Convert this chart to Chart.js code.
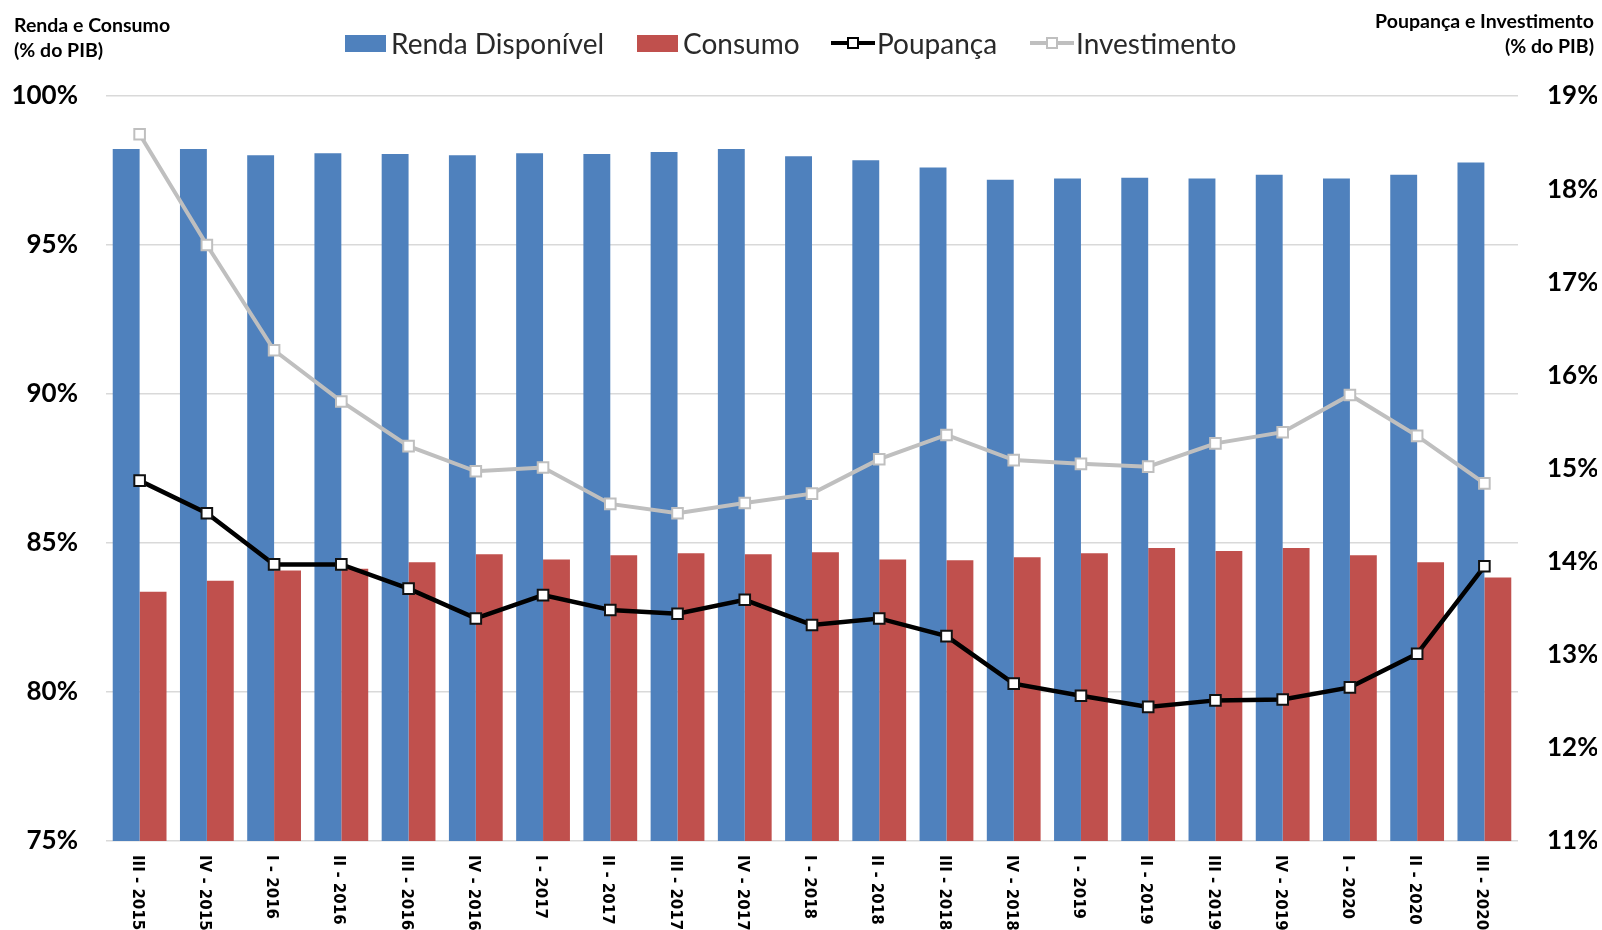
<!DOCTYPE html>
<html>
<head>
<meta charset="utf-8">
<script src="https://cdn.jsdelivr.net/npm/chart.js@4"></script>
<style>
  html, body { margin: 0; padding: 0; background: #fff; }
  #wrap { position: relative; width: 1602px; height: 930px; }
  canvas { position: absolute; left: 0; top: 0; }
  .ttl { position: absolute; font-family: Lato, "Open Sans", sans-serif; font-weight: 700; font-size: 19.5px; color: #000; line-height: 25px; white-space: nowrap; }
  .leg { position: absolute; top: 28px; height: 30px; display: flex; align-items: center; font-family: Lato, "Open Sans", sans-serif; font-size: 28px; color: #2a2a2a; white-space: nowrap; }
  .box { width: 41px; height: 17px; margin-right: 5px; }
  .ln { position: relative; width: 44px; height: 14px; margin-right: 2px; }
  .ln .bar { position: absolute; left: 0; right: 0; top: 5px; height: 4px; }
  .ln .mk { position: absolute; left: 16px; top: 1px; width: 8px; height: 8px; background: #fff; border: 2px solid; }
</style>
</head>
<body>
<div id="wrap">
  <canvas id="c" width="1602" height="930"></canvas>
  <div class="ttl" style="left:14px; top:12px;">Renda e Consumo<br>(% do PIB)</div>
  <div class="ttl" style="right:8px; top:8px; text-align:right;">Poupança e Investimento<br>(% do PIB)</div>
  <div id="legend"></div>
</div>
<script>
// Quarters
const quarters = ['III - 2015','IV - 2015','I - 2016','II - 2016','III - 2016','IV - 2016',
  'I - 2017','II - 2017','III - 2017','IV - 2017','I - 2018','II - 2018','III - 2018','IV - 2018',
  'I - 2019','II - 2019','III - 2019','IV - 2019','I - 2020','II - 2020','III - 2020'];

// Left axis series (% do PIB)
const rendaDisponivel = [98.22, 98.22, 98.01, 98.08, 98.05, 98.01, 98.08, 98.05, 98.12, 98.22,
  97.98, 97.84, 97.60, 97.19, 97.23, 97.26, 97.23, 97.36, 97.23, 97.36, 97.77];
const consumo = [83.36, 83.73, 84.08, 84.14, 84.35, 84.62, 84.45, 84.59, 84.66, 84.62,
  84.69, 84.45, 84.42, 84.52, 84.66, 84.83, 84.73, 84.83, 84.59, 84.35, 83.84];

// Right axis series (% do PIB)
const poupanca = [14.87, 14.52, 13.97, 13.97, 13.71, 13.39, 13.64, 13.48, 13.44, 13.59,
  13.32, 13.39, 13.20, 12.69, 12.56, 12.44, 12.51, 12.52, 12.65, 13.01, 13.95];
const investimento = [18.59, 17.40, 16.27, 15.72, 15.24, 14.97, 15.01, 14.62, 14.52, 14.63,
  14.73, 15.10, 15.36, 15.09, 15.05, 15.02, 15.27, 15.39, 15.79, 15.35, 14.84];

// Axis ranges
const leftAxis = { min: 75, max: 100, step: 5 };
const rightAxis = { min: 11, max: 19, step: 1 };

const BLUE = '#4f81bd', RED = '#c0504d', BLACK = '#000000', GREY = '#bfbfbf';

// Legend
const legendItems = [
  { label: 'Renda Disponível', type: 'box', color: BLUE, left: 345 },
  { label: 'Consumo', type: 'box', color: RED, left: 637 },
  { label: 'Poupança', type: 'line', color: BLACK, left: 831 },
  { label: 'Investimento', type: 'line', color: GREY, left: 1030 }
];
const legendEl = document.getElementById('legend');
legendItems.forEach(it => {
  const d = document.createElement('div');
  d.className = 'leg';
  d.style.left = it.left + 'px';
  if (it.type === 'box') {
    d.innerHTML = '<span class="box" style="background:' + it.color + '"></span>';
  } else {
    d.innerHTML = '<span class="ln"><span class="bar" style="background:' + it.color +
      '"></span><span class="mk" style="border-color:' + it.color + '"></span></span>';
  }
  const t = document.createElement('span');
  t.textContent = it.label;
  d.appendChild(t);
  legendEl.appendChild(d);
});

// Category labels drawn vertically, reading downward
const verticalLabels = {
  id: 'verticalLabels',
  afterDraw(chart) {
    const xs = chart.scales.x;
    const ctx = chart.ctx;
    const y0 = chart.chartArea.bottom + 14;
    ctx.save();
    ctx.fillStyle = '#000';
    ctx.font = 'bold 15px "DejaVu Sans", Verdana, sans-serif';
    ctx.textAlign = 'left';
    ctx.textBaseline = 'middle';
    quarters.forEach((lab, i) => {
      const x = xs.getPixelForValue(i) - 3;
      ctx.save();
      ctx.translate(x, y0);
      ctx.rotate(Math.PI / 2);
      ctx.fillText(lab, 0, 0);
      ctx.restore();
    });
    ctx.restore();
  }
};

const pct = v => v + '%';
const tickFont = { family: 'Lato', weight: 'bold', size: 26 };

new Chart(document.getElementById('c'), {
  data: {
    labels: quarters,
    datasets: [
      { type: 'line', label: 'Poupança', data: poupanca, yAxisID: 'y2', order: 0,
        borderColor: BLACK, borderWidth: 4.5, tension: 0,
        pointStyle: 'rect', pointRadius: 7.5, pointBorderWidth: 2,
        pointBackgroundColor: '#fff', pointBorderColor: '#111' },
      { type: 'line', label: 'Investimento', data: investimento, yAxisID: 'y2', order: 1,
        borderColor: GREY, borderWidth: 4, tension: 0,
        pointStyle: 'rect', pointRadius: 7.5, pointBorderWidth: 2,
        pointBackgroundColor: '#fff', pointBorderColor: GREY },
      { type: 'bar', label: 'Renda Disponível', data: rendaDisponivel, yAxisID: 'y', order: 2,
        backgroundColor: BLUE, categoryPercentage: 0.8, barPercentage: 1.0 },
      { type: 'bar', label: 'Consumo', data: consumo, yAxisID: 'y', order: 3,
        backgroundColor: RED, categoryPercentage: 0.8, barPercentage: 1.0 }
    ]
  },
  options: {
    responsive: false,
    animation: false,
    layout: { padding: { left: 12, right: 5, top: 96, bottom: 81 } },
    plugins: { legend: { display: false }, tooltip: { enabled: false } },
    scales: {
      x: {
        grid: { display: false },
        border: { display: false },
        ticks: { display: false }
      },
      y: {
        position: 'left',
        min: leftAxis.min, max: leftAxis.max,
        afterFit: s => { s.width = 94; },
        grid: { color: '#d9d9d9', lineWidth: 1.5, drawTicks: false },
        border: { display: false },
        ticks: { stepSize: leftAxis.step, padding: 28, color: '#000', font: tickFont, callback: pct }
      },
      y2: {
        position: 'right',
        min: rightAxis.min, max: rightAxis.max,
        afterFit: s => { s.width = 79; },
        grid: { display: false, drawTicks: false },
        border: { display: false },
        ticks: { stepSize: rightAxis.step, padding: 29, color: '#000', font: tickFont, callback: pct }
      }
    }
  },
  plugins: [verticalLabels]
});
</script>
</body>
</html>
